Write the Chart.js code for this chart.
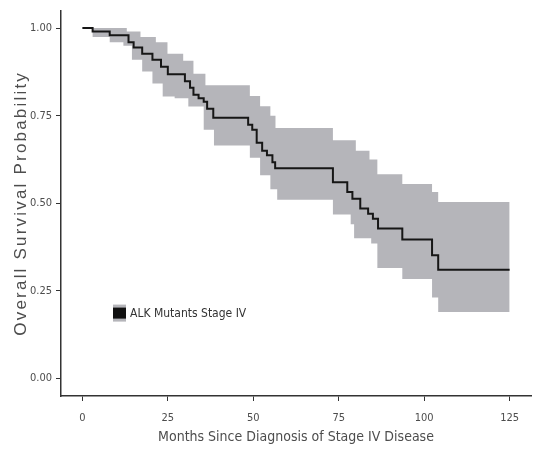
<!DOCTYPE html>
<html>
<head>
<meta charset="utf-8">
<script src="https://cdn.jsdelivr.net/npm/chart.js@4"></script>
<style>
  html, body { margin: 0; padding: 0; background: #fff; }
  #wrap { width: 539px; height: 454px; }
</style>
</head>
<body>
<div id="wrap"><canvas id="km-chart" width="539" height="454"></canvas></div>
<script>
// Kaplan-Meier estimate (months, survival probability)
const survTimes = [0, 3, 8, 13.5, 15, 17.5, 20.5, 23, 25, 30, 31.5, 32.5, 34, 35.5, 36.5, 38.3,
    48.5, 49.7, 51, 52.6, 54, 55.6, 56.4, 73.3, 77.5, 79, 81.3, 83.6, 85, 86.5, 93.6, 102.3, 104.1, 125];
const survival = [1.0, 0.99, 0.98, 0.96, 0.945, 0.927, 0.91, 0.89, 0.868, 0.848, 0.83, 0.81, 0.80, 0.79, 0.77, 0.744,
    0.724, 0.71, 0.673, 0.65, 0.637, 0.617, 0.60, 0.56, 0.532, 0.513, 0.485, 0.47, 0.456, 0.428, 0.397, 0.352, 0.31, 0.31];

// 95% confidence band
const upperTimes = [0, 13, 17, 21.5, 24.9, 29.5, 32.5, 36, 49, 52, 55, 56.5, 73.3, 80, 84, 86.3, 93.6, 102.3, 104.1, 125];
const upperCI = [1.0, 0.99, 0.975, 0.96, 0.927, 0.907, 0.87, 0.837, 0.806, 0.777, 0.75, 0.715, 0.68, 0.65, 0.625, 0.583, 0.555, 0.532, 0.504, 0.504];

const lowerTimes = [0, 3, 8, 12, 14.5, 17.5, 20.5, 23.5, 27, 31, 35.5, 38.5, 49, 52, 55, 57, 73.3, 78.5, 79.5, 84.5, 86.3, 93.6, 102.3, 104.1, 125];
const lowerCI = [1.0, 0.975, 0.96, 0.95, 0.91, 0.876, 0.842, 0.805, 0.80, 0.776, 0.71, 0.665, 0.63, 0.58, 0.54, 0.51, 0.468, 0.44, 0.40, 0.385, 0.315, 0.284, 0.231, 0.19, 0.19];

const xTicks = [0, 25, 50, 75, 100, 125];
const yTicks = [0, 0.25, 0.5, 0.75, 1.0];

const seriesLabel = 'ALK Mutants Stage IV';
const yTitle = 'Overall Survival Probability';
const bandColor = 'rgb(181,181,186)';
const narrowFont = '"Liberation Sans Narrow", "DejaVu Sans Condensed", "Liberation Sans", sans-serif';

const toPoints = (xs, ys) => xs.map((x, i) => ({ x: x, y: ys[i] }));

// legend inside the plot + letter-spaced y title, like the original
const insideLegend = {
    id: 'insideLegend',
    afterDraw(chart) {
        const ctx = chart.ctx;
        const area = chart.chartArea;
        const bx = area.left + 52;
        const by = area.top + 294;
        ctx.save();
        ctx.fillStyle = bandColor;
        ctx.fillRect(bx, by, 13, 17);
        ctx.fillStyle = '#111';
        ctx.fillRect(bx, by + 3, 13, 11);
        ctx.fillStyle = '#333';
        ctx.font = '12px ' + narrowFont;
        ctx.textBaseline = 'middle';
        ctx.textAlign = 'left';
        ctx.fillText(seriesLabel, bx + 17, by + 9);
        ctx.restore();

        ctx.save();
        ctx.translate(21, (area.top + area.bottom) / 2);
        ctx.rotate(-Math.PI / 2);
        ctx.font = '17px "Liberation Sans", Arial, sans-serif';
        ctx.letterSpacing = '2.2px';
        ctx.fillStyle = '#4d4d4d';
        ctx.textAlign = 'center';
        ctx.textBaseline = 'middle';
        ctx.fillText(yTitle, 0, 0);
        ctx.restore();
    }
};

const ctx = document.getElementById('km-chart').getContext('2d');
new Chart(ctx, {
    type: 'line',
    data: {
        datasets: [
            {
                label: seriesLabel,
                data: toPoints(survTimes, survival),
                borderColor: '#161616',
                borderWidth: 2,
                pointRadius: 0,
                stepped: true,
                fill: false
            },
            {
                label: 'upper',
                data: toPoints(upperTimes, upperCI),
                borderWidth: 0,
                borderColor: 'rgba(0,0,0,0)',
                backgroundColor: bandColor,
                pointRadius: 0,
                stepped: true,
                fill: '+1'
            },
            {
                label: 'lower',
                data: toPoints(lowerTimes, lowerCI),
                borderWidth: 0,
                borderColor: 'rgba(0,0,0,0)',
                pointRadius: 0,
                stepped: true,
                fill: false
            }
        ]
    },
    options: {
        responsive: false,
        animation: false,
        layout: { padding: { top: 6, right: 8 } },
        plugins: {
            legend: { display: false },
            tooltip: { enabled: false }
        },
        scales: {
            x: {
                type: 'linear',
                min: -6.25,
                max: 131.25,
                afterBuildTicks: (scale) => { scale.ticks = xTicks.map(v => ({ value: v })); },
                afterFit: (scale) => { scale.height = 58; },
                grid: { display: true, drawOnChartArea: false, drawTicks: true, tickLength: 5, color: '#333', lineWidth: 1 },
                border: { display: true, color: '#333', width: 1.5 },
                ticks: { color: '#4d4d4d', font: { family: narrowFont, size: 11 }, padding: 11, maxRotation: 0 },
                title: {
                    display: true,
                    text: 'Months Since Diagnosis of Stage IV Disease',
                    color: '#4d4d4d',
                    font: { family: narrowFont, size: 14 },
                    padding: { top: 2, bottom: 8 }
                }
            },
            y: {
                type: 'linear',
                min: -0.05,
                max: 1.05,
                afterBuildTicks: (scale) => { scale.ticks = yTicks.map(v => ({ value: v })); },
                afterFit: (scale) => { scale.width = 61; },
                grid: { display: true, drawOnChartArea: false, drawTicks: true, tickLength: 5, color: '#333', lineWidth: 1 },
                border: { display: true, color: '#333', width: 1.5 },
                ticks: {
                    color: '#4d4d4d',
                    font: { family: narrowFont, size: 11 },
                    padding: 4,
                    callback: (v) => Number(v).toFixed(2)
                },
                title: { display: false }
            }
        }
    },
    plugins: [insideLegend]
});
</script>
</body>
</html>
